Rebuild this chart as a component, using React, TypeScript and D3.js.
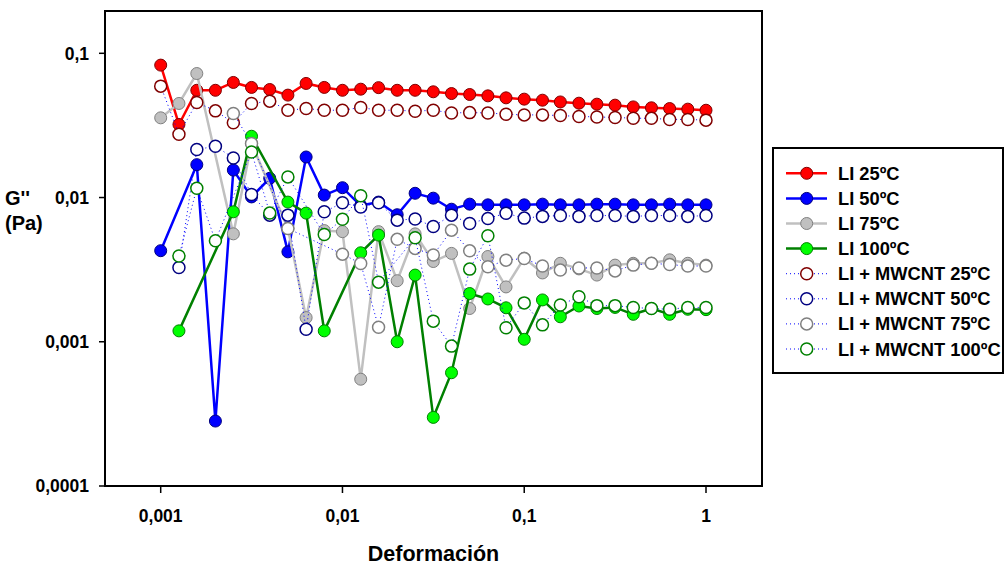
import React from "react";
import * as d3 from "d3";

const strain = [0.001, 0.00126, 0.00158, 0.002, 0.00251, 0.00316, 0.00398, 0.00501, 0.00631, 0.00794, 0.01, 0.0126, 0.0158, 0.02, 0.0251, 0.0316, 0.0398, 0.0501, 0.0631, 0.0794, 0.1, 0.126, 0.158, 0.2, 0.251, 0.316, 0.398, 0.501, 0.631, 0.794, 1];

const li25 = [0.0828, 0.0321, 0.0554, 0.0554, 0.0628, 0.058, 0.0561, 0.0513, 0.0618, 0.058, 0.0554, 0.0564, 0.0578, 0.0554, 0.0554, 0.0541, 0.0526, 0.0518, 0.0507, 0.0491, 0.0481, 0.0473, 0.046, 0.0451, 0.0444, 0.0437, 0.0425, 0.0419, 0.0414, 0.041, 0.0403];
const li50 = [0.00428, null, 0.0169, 0.000282, 0.0155, 0.0101, 0.0136, 0.0042, 0.0191, 0.0104, 0.0117, 0.0088, 0.0093, 0.0076, 0.0107, 0.0099, 0.0083, 0.009, 0.0089, 0.0089, 0.0089, 0.009, 0.0089, 0.0089, 0.009, 0.009, 0.0089, 0.0089, 0.009, 0.0089, 0.0089];
const li75 = [0.0357, 0.0449, 0.0724, null, 0.0056, 0.0237, null, 0.0061, 0.00147, 0.0059, 0.0058, 0.00055, 0.0058, 0.00265, 0.0056, 0.0036, 0.0041, 0.0017, 0.0039, 0.0024, 0.0038, 0.003, 0.0035, 0.0032, 0.0029, 0.0034, 0.0035, 0.0035, 0.0037, 0.0035, 0.0034];
const li100 = [null, 0.00119, null, null, 0.00796, 0.0266, null, 0.0093, 0.0078, 0.00119, null, 0.00414, 0.00549, 0.001, 0.0029, 0.000299, 0.00061, 0.00216, 0.00198, 0.00172, 0.00104, 0.00195, 0.00149, 0.00177, 0.0017, 0.00173, 0.00155, 0.0017, 0.00155, 0.00168, 0.00167];
const mw25 = [0.0592, 0.0275, 0.0456, 0.0399, 0.033, 0.0449, 0.0466, 0.0403, 0.0414, 0.0403, 0.0403, 0.0421, 0.0403, 0.0403, 0.0397, 0.0403, 0.0386, 0.0388, 0.0386, 0.0378, 0.0374, 0.0374, 0.037, 0.0365, 0.0362, 0.0359, 0.0355, 0.0354, 0.0348, 0.0348, 0.0344];
const mw50 = [null, 0.00327, 0.0215, 0.0227, 0.0188, 0.0105, 0.00755, 0.00755, 0.00122, 0.00796, 0.00919, 0.0086, 0.0092, 0.00697, 0.0071, 0.0063, 0.00755, 0.0066, 0.00716, 0.00778, 0.0072, 0.0074, 0.0075, 0.0074, 0.0075, 0.0075, 0.0074, 0.0075, 0.0075, 0.0074, 0.0075];
const mw75 = [null, null, null, null, 0.0383, 0.0237, null, 0.0061, null, null, 0.00405, 0.00349, 0.00126, 0.00513, 0.00444, 0.00399, 0.00594, 0.00427, 0.00331, 0.00368, 0.00378, 0.00335, 0.00314, 0.00325, 0.00325, 0.0031, 0.0034, 0.0035, 0.00343, 0.00335, 0.00335];
const mw100 = [null, 0.00393, 0.0116, 0.00501, null, 0.0207, 0.0078, 0.0139, null, 0.00555, 0.00708, 0.0103, 0.00259, null, 0.00526, 0.00139, 0.000933, 0.00319, 0.00543, 0.00125, 0.00186, 0.00131, 0.0018, 0.00205, 0.00178, 0.00178, 0.00173, 0.0017, 0.00168, 0.00173, 0.00173];

const xTicks = [0.001, 0.01, 0.1, 1];
const xTickLabels = ["0,001", "0,01", "0,1", "1"];
const yTicks = [0.0001, 0.001, 0.01, 0.1];
const yTickLabels = ["0,0001", "0,001", "0,01", "0,1"];

type S = { name: string; values: (number | null)[]; open: boolean; line: string; fill: string; stroke: string };
const series: S[] = [
  { name: "LI 25ºC", values: li25, open: false, line: "#FF0000", fill: "#FF0000", stroke: "#800000" },
  { name: "LI 50ºC", values: li50, open: false, line: "#0000FF", fill: "#0000FF", stroke: "#000080" },
  { name: "LI 75ºC", values: li75, open: false, line: "#C0C0C0", fill: "#C0C0C0", stroke: "#808080" },
  { name: "LI 100ºC", values: li100, open: false, line: "#008000", fill: "#00FF00", stroke: "#008000" },
  { name: "LI + MWCNT 25ºC", values: mw25, open: true, line: "#0000FF", fill: "#FFFFFF", stroke: "#800000" },
  { name: "LI + MWCNT 50ºC", values: mw50, open: true, line: "#0000FF", fill: "#FFFFFF", stroke: "#000080" },
  { name: "LI + MWCNT 75ºC", values: mw75, open: true, line: "#0000FF", fill: "#FFFFFF", stroke: "#808080" },
  { name: "LI + MWCNT 100ºC", values: mw100, open: true, line: "#0000FF", fill: "#FFFFFF", stroke: "#008000" },
];

const FONT = "'Liberation Sans', Arial, sans-serif";

export default function App() {
  const left = 105, right = 762, top = 11, bottom = 486;
  const x = d3.scaleLog().domain([0.001, 1]).range([160.7, 706]);
  const y = d3.scaleLog().domain([0.0001, 0.1]).range([486, 53.3]);
  const R = 6;

  return (
    <svg width={1006} height={567} style={{ position: "absolute", left: 0, top: 0, background: "#fff" }} fontFamily={FONT}>
      <rect x={0} y={0} width={1006} height={567} fill="#fff" />
      {series.map((s, si) => {
        const pts = s.values
          .map((v, i) => (v == null ? null : [x(strain[i]), y(v)] as [number, number]))
          .filter((p): p is [number, number] => p !== null);
        const path = d3.line()(pts) || "";
        return (
          <g key={si}>
            <path d={path} fill="none" stroke={s.line} strokeWidth={s.open ? 1 : 2.5}
              strokeDasharray={s.open ? "1,3" : undefined} />
            {pts.map((p, i) => (
              <circle key={i} cx={p[0]} cy={p[1]} r={R} fill={s.fill} stroke={s.stroke} strokeWidth={s.open ? 1.5 : 1} />
            ))}
          </g>
        );
      })}
      <rect x={left} y={top} width={right - left} height={bottom - top} fill="none" stroke="#000" strokeWidth={2} />
      {xTicks.map((t, i) => (
        <g key={i}>
          <line x1={x(t)} x2={x(t)} y1={bottom} y2={bottom + 7} stroke="#000" strokeWidth={1.5} />
          <text x={x(t)} y={bottom + 36} textAnchor="middle" fontWeight="bold" fontSize={17.5}>{xTickLabels[i]}</text>
        </g>
      ))}
      {yTicks.map((t, i) => (
        <g key={i}>
          <line x1={left - 6} x2={left} y1={y(t)} y2={y(t)} stroke="#000" strokeWidth={1.5} />
          <text x={89} y={y(t)} dy="0.36em" textAnchor="end" fontWeight="bold" fontSize={17.5}>{yTickLabels[i]}</text>
        </g>
      ))}
      <text x={(left + right) / 2} y={561} textAnchor="middle" fontWeight="bold" fontSize={21.5}>Deformación</text>
      <text x={5} y={205} fontWeight="bold" fontSize={20}>G''</text>
      <text x={5} y={230} fontWeight="bold" fontSize={20}>(Pa)</text>
      <g>
        <rect x={773} y={148} width={230} height={225} fill="#fff" stroke="#000" strokeWidth={2} />
        {series.map((s, i) => {
          const cy = 173.3 + i * 25.1;
          return (
            <g key={i}>
              <line x1={786} x2={827} y1={cy} y2={cy} stroke={s.line} strokeWidth={s.open ? 1 : 2.5}
                strokeDasharray={s.open ? "1,3" : undefined} />
              <circle cx={806.7} cy={cy} r={R} fill={s.fill} stroke={s.stroke} strokeWidth={s.open ? 1.5 : 1} />
              <text x={838} y={cy} dy="0.36em" fontWeight="bold" fontSize={18.3}>{s.name}</text>
            </g>
          );
        })}
      </g>
    </svg>
  );
}
